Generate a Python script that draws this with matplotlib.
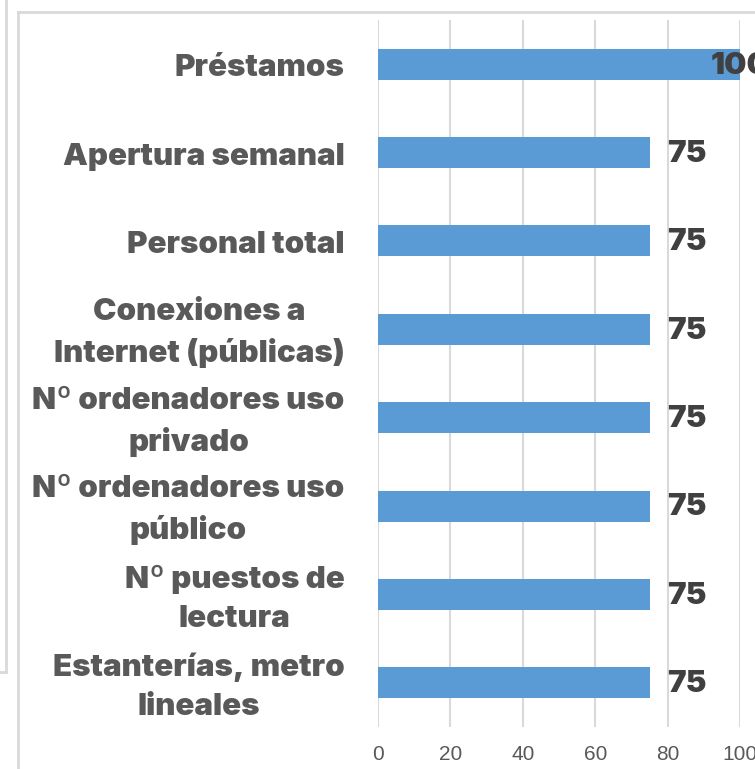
import matplotlib
matplotlib.use("Agg")
import matplotlib.pyplot as plt
from matplotlib.lines import Line2D

categories = [
    "Préstamos",
    "Apertura semanal",
    "Personal total",
    "Conexiones a\nInternet (públicas)",
    "Nº ordenadores uso\nprivado",
    "Nº ordenadores uso\npúblico",
    "Nº puestos de\nlectura",
    "Estanterías, metro\nlineales",
]
values = [100, 75, 75, 75, 75, 75, 75, 75]
xticks = [0, 20, 40, 60, 80, 100]

W, H = 755, 769
fig = plt.figure(figsize=(W / 100, H / 100), dpi=100)
fig.patch.set_facecolor("white")

def fx(px):
    return px / W

def fy(py):
    return 1 - py / H

ax = fig.add_axes([fx(378), fy(727), fx(740) - fx(378), fy(20) - fy(727)])
ax.set_facecolor("none")

y = list(range(len(categories)))[::-1]
ax.barh(y, values, height=0.35, color="#5B9BD5", zorder=3)
ax.set_xlim(0, 100)
ax.set_ylim(-0.5, len(categories) - 0.5)

ax.set_yticks(y)
ax.set_yticklabels([])
for yi, cat in zip(y, categories):
    ax.annotate(cat, xy=(0, yi), xycoords=("axes fraction", "data"),
                xytext=(-24, -3), textcoords="offset points",
                ha="right", va="center", multialignment="center", linespacing=1.5,
                fontsize=22.5, fontweight=900, color="#595959", family="Inter",
                annotation_clip=False)
ax.set_xticks(xticks)
ax.set_xticklabels([str(t) for t in xticks], fontsize=15, color="#595959",
                   family="Liberation Sans")
ax.tick_params(axis="both", length=0)
ax.tick_params(axis="x", pad=13)
ax.grid(axis="x", color="#D9D9D9", linewidth=1.5, zorder=0)
ax.set_axisbelow(True)
for s in ax.spines.values():
    s.set_visible(False)

for yi, v in zip(y, values):
    off = -21 if v >= 100 else 13
    ax.annotate(str(v), xy=(v, yi), xytext=(off, -1), textcoords="offset points",
                ha="left", va="center", fontsize=22.5, fontweight=900,
                color="#404040", family="Inter", zorder=4,
                annotation_clip=False)

# chart border (cropped Excel frame)
fig.add_artist(Line2D([fx(18), fx(18)], [fy(12), fy(H + 5)], color="#D9D9D9", lw=2))
fig.add_artist(Line2D([fx(18), fx(W + 5)], [fy(12), fy(12)], color="#D9D9D9", lw=2))
# neighbouring chart frame on the left
fig.add_artist(Line2D([fx(6), fx(6)], [fy(-5), fy(672)], color="#D9D9D9", lw=2))
fig.add_artist(Line2D([fx(-5), fx(6)], [fy(672), fy(672)], color="#D9D9D9", lw=2))

fig.savefig("out.png", dpi=100)
